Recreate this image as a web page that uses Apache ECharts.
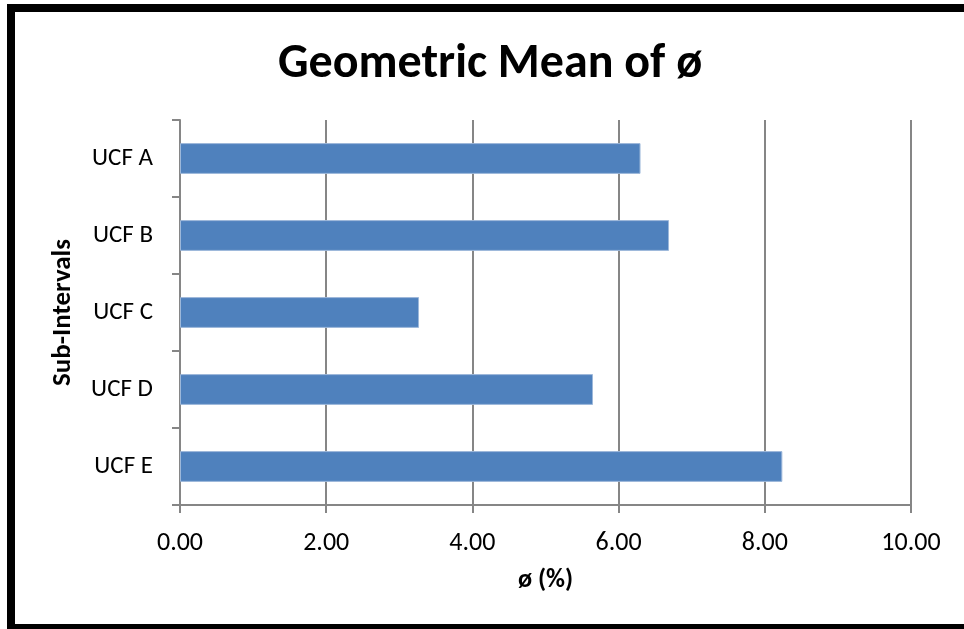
<!DOCTYPE html>
<html>
<head>
<meta charset="utf-8">
<script src="https://cdn.jsdelivr.net/npm/echarts@6/dist/echarts.min.js"></script>
<style>
  html, body { margin: 0; padding: 0; background: #fff; }
  #chart { width: 964px; height: 629px; }
</style>
</head>
<body>
<div id="chart"></div>
<script>
// Sub-interval names (top to bottom) and their geometric mean of ø, in %
const categories = ['UCF A', 'UCF B', 'UCF C', 'UCF D', 'UCF E'];
const geoMean = [6.30, 6.69, 3.27, 5.65, 8.24];
const xMin = 0, xMax = 10, xStep = 2;

const chart = echarts.init(document.getElementById('chart'));
const font = "Carlito, Calibri, 'Open Sans', sans-serif";
const gray = '#868686';

chart.setOption({
  animation: false,
  backgroundColor: '#ffffff',
  title: {
    text: 'Geometric Mean of ø',
    left: 273,
    top: 36,
    textStyle: { fontFamily: font, fontWeight: 'bold', fontSize: 48, color: '#000' }
  },
  grid: { left: 180, right: 53, top: 120, bottom: 124, containLabel: false },
  xAxis: {
    type: 'value',
    min: xMin, max: xMax, interval: xStep,
    name: 'ø (%)',
    nameLocation: 'middle',
    nameGap: 62,
    nameTextStyle: { fontFamily: font, fontWeight: 'bold', fontSize: 26, color: '#000' },
    axisLine: { show: true, lineStyle: { color: gray, width: 2 } },
    axisTick: { show: true, length: 8, lineStyle: { color: gray, width: 2 } },
    axisLabel: {
      fontFamily: font, fontSize: 26, color: '#000', margin: 25,
      formatter: v => v.toFixed(2)
    },
    splitLine: { show: true, lineStyle: { color: gray, width: 2 } }
  },
  yAxis: {
    type: 'category',
    data: categories,
    inverse: true,
    name: 'Sub-Intervals',
    nameLocation: 'middle',
    nameGap: 103,
    nameRotate: 90,
    nameTextStyle: { fontFamily: font, fontWeight: 'bold', fontSize: 27, color: '#000' },
    axisLine: { show: true, lineStyle: { color: gray, width: 2 } },
    axisTick: { show: true, length: 8, lineStyle: { color: gray, width: 2 } },
    axisLabel: { fontFamily: font, fontSize: 25, color: '#000', margin: 27 },
    splitLine: { show: false }
  },
  series: [{
    type: 'bar',
    data: geoMean,
    barWidth: '40%',
    itemStyle: { color: '#4F81BD', borderColor: '#9DB8DA', borderWidth: 1 }
  }],
  graphic: [
    { type: 'rect', shape: { x: 7, y: 4, width: 957, height: 8 }, style: { fill: '#000' } },
    { type: 'rect', shape: { x: 7, y: 4, width: 8, height: 625 }, style: { fill: '#000' } },
    { type: 'rect', shape: { x: 7, y: 624, width: 957, height: 5 }, style: { fill: '#000' } }
  ]
});
</script>
</body>
</html>
